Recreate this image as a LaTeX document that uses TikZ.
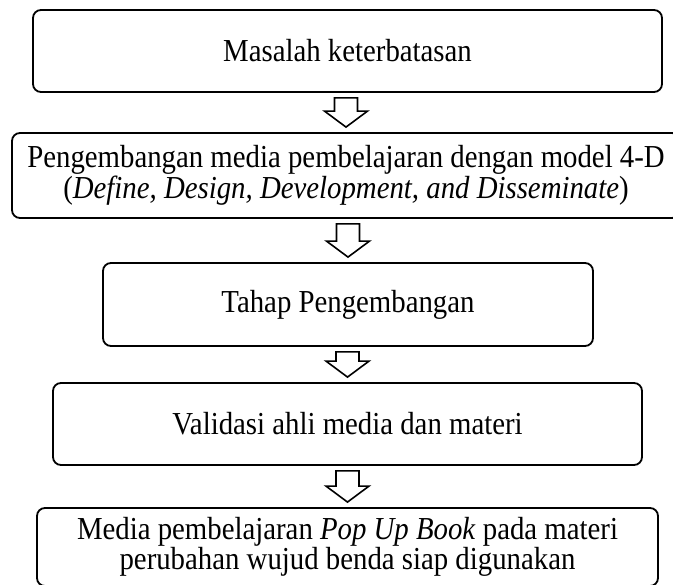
\documentclass[tikz,border=0pt]{standalone}
\usepackage{fontspec}
\setmainfont{Liberation Serif}[FakeStretch=0.9]
\usetikzlibrary{calc}
\tikzstyle{entry}=[draw, line width=1.8pt, rounded corners=8pt, inner sep=0pt, align=center, font=\fontsize{32}{28}\selectfont]
\tikzstyle{wide} = [entry, minimum width=629pt, minimum height=82pt]
\tikzstyle{hollow} = [line width=1.6pt, fill=white, line join=miter]
\newcommand{\flowarrow}[2]{%
  \coordinate (tip) at ($(#2.north)+(0,5pt)$);
  \draw [hollow] ($(tip |- #1.south)+(-11.5pt,-5pt)$) -- ($(tip |- #1.south)+(11.5pt,-5pt)$)
    -- ($(tip)+(11.5pt,16pt)$) -- ($(tip)+(21.5pt,16pt)$) -- (tip)
    -- ($(tip)+(-21.5pt,16pt)$) -- ($(tip)+(-11.5pt,16pt)$) -- cycle;}
\begin{document}
\begin{tikzpicture}[x=1pt,y=1pt]
\useasboundingbox (0,0) rectangle (673,-585);

\node (masalah) at (347.5,-51) [wide] {Masalah keterbatasan};
\node (model) at (346,-175.5) [entry, minimum width=668pt, minimum height=85pt] {Pengembangan media pembelajaran dengan model 4-D\\(\textit{Define, Design, Development, and Disseminate})};
\node (tahap) at (348,-304.5) [entry, minimum width=490pt, minimum height=83pt] {Tahap Pengembangan};
\node (validasi) at (347.5,-424) [entry, minimum width=589pt, minimum height=82pt] {Validasi ahli media dan materi};
\node (hasil) at (347.5,-547) [entry, minimum width=621pt, minimum height=78pt] {Media pembelajaran \textit{Pop Up Book} pada materi\\perubahan wujud benda siap digunakan};

\flowarrow{masalah}{model}
\flowarrow{model}{tahap}
\flowarrow{tahap}{validasi}
\flowarrow{validasi}{hasil}

\end{tikzpicture}
\end{document}
